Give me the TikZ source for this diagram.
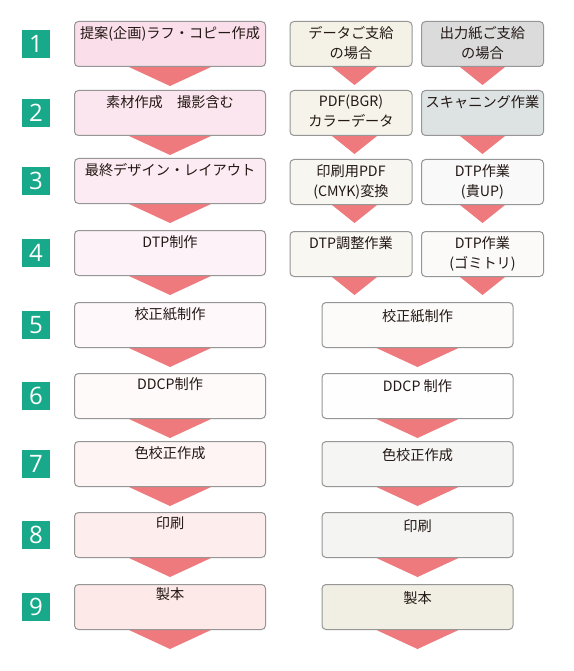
\documentclass[tikz,border=0pt]{standalone}
\usepackage{fontspec}
\newfontfamily\jp{Noto Sans CJK JP}
\newfontfamily\numfont{Open Sans}
\usetikzlibrary{calc,backgrounds}
\definecolor{arrowc}{HTML}{EE7A7D}
\definecolor{teal}{HTML}{17A98A}
\definecolor{bord}{HTML}{969696}
\definecolor{txt}{HTML}{231815}
\definecolor{cLa}{HTML}{FADFEA}
\definecolor{cLb}{HTML}{FBE5EE}
\definecolor{cLc}{HTML}{FCEBF2}
\definecolor{cLd}{HTML}{FDF2F7}
\definecolor{cLe}{HTML}{FEF8FA}
\definecolor{cLf}{HTML}{FEFAFA}
\definecolor{cLg}{HTML}{FDF4F3}
\definecolor{cLh}{HTML}{FDEEED}
\definecolor{cLi}{HTML}{FCE9E8}
\definecolor{cRa}{HTML}{F4F2E7}
\definecolor{cRb}{HTML}{DBDBDB}
\definecolor{cRc}{HTML}{F5F3EA}
\definecolor{cRd}{HTML}{DCE3E2}
\definecolor{cRe}{HTML}{F7F6F1}
\definecolor{cRf}{HTML}{F9F9F9}
\definecolor{cRg}{HTML}{F8F7F2}
\definecolor{cRh}{HTML}{FBFAF9}
\definecolor{cRi}{HTML}{FCFBF9}
\definecolor{cRj}{HTML}{FEFEFE}
\definecolor{cRk}{HTML}{F5F5F3}
\definecolor{cRl}{HTML}{F4F4F3}
\definecolor{cRm}{HTML}{F1EFE3}
\tikzset{
  flowbox/.style={draw=bord, line width=1pt, rounded corners=4pt, anchor=north, inner sep=0pt},
  widebox/.style={flowbox, minimum width=191pt, minimum height=45pt},
  narrowbox/.style={flowbox, minimum width=122pt, minimum height=45pt},
  lbl/.style={font=\jp\fontsize{14.2}{20}\selectfont, text=txt, align=center, anchor=north, inner sep=0pt},
  numbox/.style={fill=teal, text=white, minimum width=28pt, minimum height=28pt, inner sep=0pt, font=\numfont\fontsize{24}{24}\selectfont},
}
\newcommand{\wideArrow}[1]{\fill[arrowc] ($(#1.south)+(-45.3,-2)$) -- ($(#1.south)+(45.3,-2)$) -- ($(#1.south)+(0,19)$) -- cycle;}
\newcommand{\narrowArrow}[2]{\fill[arrowc] ($(#1.south)+(#2-25,-2)$) -- ($(#1.south)+(#2+25,-2)$) -- ($(#1.south)+(#2,18)$) -- cycle;}
\begin{document}
\begin{tikzpicture}[x=1pt,y=-1pt]
\useasboundingbox (0,0) rectangle (573,671);
% left column
\node[widebox, fill=cLa] (L1) at (170,21) {};
\node[widebox, fill=cLb] (L2) at (170,90) {};
\node[widebox, fill=cLc] (L3) at (170,158) {};
\node[widebox, fill=cLd] (L4) at (170,230) {};
\node[widebox, fill=cLe] (L5) at (170,302) {};
\node[widebox, fill=cLf] (L6) at (170,373) {};
\node[widebox, fill=cLg] (L7) at (170,441) {};
\node[widebox, fill=cLh] (L8) at (170,512) {};
\node[widebox, fill=cLi] (L9) at (170,584) {};
% right column, top rows
\node[narrowbox, fill=cRa] (A1) at (351,21) {};
\node[narrowbox, fill=cRb] (B1) at (482.5,21) {};
\node[narrowbox, fill=cRc] (A2) at (351,90) {};
\node[narrowbox, fill=cRd] (B2) at (482.5,90) {};
\node[narrowbox, fill=cRe] (A3) at (351,159) {};
\node[narrowbox, fill=cRf] (B3) at (482.5,159) {};
\node[narrowbox, fill=cRg] (A4) at (351,231) {};
\node[narrowbox, fill=cRh] (B4) at (482.5,231) {};
% right column, lower rows
\node[widebox, fill=cRi] (R5) at (417.5,302) {};
\node[widebox, fill=cRj] (R6) at (417.5,373) {};
\node[widebox, fill=cRk] (R7) at (417.5,441) {};
\node[widebox, fill=cRl] (R8) at (417.5,512) {};
\node[widebox, fill=cRm] (R9) at (417.5,584) {};
% arrows
\begin{pgfonlayer}{background}
\fill[white] (0,0) rectangle (573,671);
\foreach \b in {L1,L2,L3,L4,L5,L6,L7,L8,L9,R5,R6,R7,R8,R9} {\wideArrow{\b}}
\foreach \b in {A1,A2,A3,A4} {\narrowArrow{\b}{3.5}}
\foreach \b in {B1,B2,B3,B4} {\narrowArrow{\b}{0}}
\end{pgfonlayer}
% labels
\node[lbl] (tL1) at ($(L1.north)+(0,5)$) {提案(企画)ラフ・コピー作成};
\node[lbl] (tL2) at ($(L2.north)+(0,5)$) {素材作成　撮影含む};
\node[lbl] (tL3) at ($(L3.north)+(0,5)$) {最終デザイン・レイアウト};
\node[lbl] (tL4) at ($(L4.north)+(0,5)$) {DTP制作};
\node[lbl] (tL5) at ($(L5.north)+(0,5)$) {校正紙制作};
\node[lbl] (tL6) at ($(L6.north)+(0,4)$) {DDCP制作};
\node[lbl] (tL7) at ($(L7.north)+(0,5)$) {色校正作成};
\node[lbl] (tL8) at ($(L8.north)+(0,4)$) {印刷};
\node[lbl] (tL9) at ($(L9.north)+(0,3)$) {製本};
\node[lbl] (tA1) at ($(A1.north)+(0,5)$) {データご支給\\の場合};
\node[lbl] (tB1) at ($(B1.north)+(0,5)$) {出力紙ご支給\\の場合};
\node[lbl] (tA2) at ($(A2.north)+(0,5)$) {PDF(BGR)\\カラーデータ};
\node[lbl] (tB2) at ($(B2.north)+(0,5)$) {スキャニング作業};
\node[lbl] (tA3) at ($(A3.north)+(0,5)$) {印刷用PDF\\(CMYK)変換};
\node[lbl] (tB3) at ($(B3.north)+(0,5)$) {DTP作業\\(貴UP)};
\node[lbl] (tA4) at ($(A4.north)+(0,5)$) {DTP調整作業};
\node[lbl] (tB4) at ($(B4.north)+(0,5)$) {DTP作業\\(ゴミトリ)};
\node[lbl] (tR5) at ($(R5.north)+(0,7)$) {校正紙制作};
\node[lbl] (tR6) at ($(R6.north)+(0,6)$) {DDCP 制作};
\node[lbl] (tR7) at ($(R7.north)+(0,7)$) {色校正作成};
\node[lbl] (tR8) at ($(R8.north)+(0,7)$) {印刷};
\node[lbl] (tR9) at ($(R9.north)+(0,7)$) {製本};
% step numbers
\foreach \i/\b in {1/L1,2/L2,3/L3,4/L4,5/L5,6/L6,7/L7,8/L8,9/L9}
  \node[numbox] (n\i) at (36,0 |- \b.center) {\i};
\end{tikzpicture}
\end{document}
